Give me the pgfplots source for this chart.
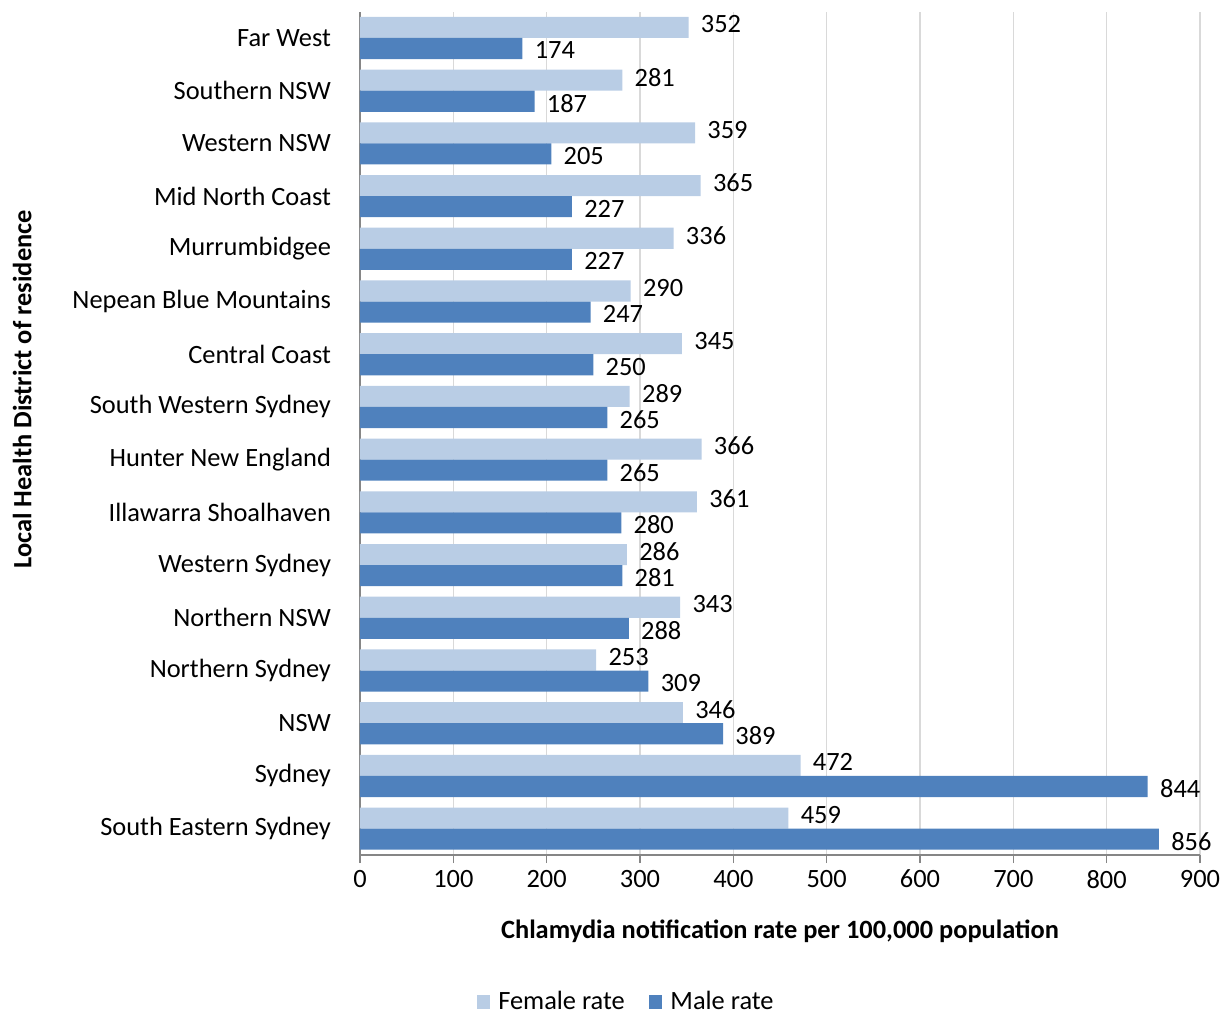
\documentclass[border=0pt]{standalone}
\usepackage{pgfplots}
\pgfplotsset{compat=1.18}
\usepackage{fontspec}
\setmainfont{Carlito}
\definecolor{fem}{RGB}{185,205,229}
\definecolor{mal}{RGB}{79,129,189}
\definecolor{gridc}{RGB}{217,217,217}
\definecolor{axc}{RGB}{134,134,134}
\begin{document}
\begin{tikzpicture}
\begin{axis}[
  scale only axis, width=420pt, height=421.7pt,
  at={(0,0)}, anchor=south west,
  xmin=0, xmax=900, ymin=-0.5, ymax=15.5,
  xbar, bar width=0.4,
  axis x line*=bottom, axis y line*=left,
  axis line style={axc, line width=0.6pt},
  xtick={0,100,...,900},
  xmajorgrids=true, grid style={gridc, line width=0.6pt},
  ytick={0,...,15},
  yticklabels={South Eastern Sydney,Sydney,NSW,Northern Sydney,Northern NSW,Western Sydney,Illawarra Shoalhaven,Hunter New England,South Western Sydney,Central Coast,Nepean Blue Mountains,Murrumbidgee,Mid North Coast,Western NSW,Southern NSW,Far West},
  minor ytick={-0.5,0.5,...,15.5},
  tick align=outside,
  major tick length=4pt,
  minor tick length=4pt,
  ytick style={draw=none},
  minor tick style={axc, line width=0.6pt, draw=axc},
  xtick style={axc, line width=0.6pt},
  tick label style={font=\fontsize{13.2}{15}\selectfont, text=black},
  /pgf/number format/assume math mode=true,
  yticklabel style={xshift=-7pt},
  xlabel={\textbf{Chlamydia notification rate per 100,000 population}},
  xlabel style={font=\fontsize{13.2}{15}\selectfont, at={(axis description cs:0.5,-0.09)}, anchor=center},
  ylabel={\textbf{Local Health District of residence}},
  ylabel style={font=\fontsize{13.2}{15}\selectfont, at={(axis description cs:-0.402,0.552)}, anchor=center},
  nodes near coords,
  every node near coord/.append style={font=\fontsize{13.2}{15}\selectfont, text=black, xshift=4.5pt, inner sep=1.5pt},
  legend style={at={(axis description cs:0.318,-0.174)}, anchor=center, legend columns=2, draw=none, font=\fontsize{13.2}{15}\selectfont, /tikz/every even column/.append style={column sep=10pt}, /tikz/every odd column/.append style={column sep=2pt}},
  legend image code/.code={\fill[#1] (0cm,-0.12cm) rectangle (0.24cm,0.12cm);},
]
\addplot[fill=fem, draw=none, bar shift=0.2, every node near coord/.append style={yshift=1.5pt}] coordinates {
(459,0) (472,1) (346,2) (253,3) (343,4) (286,5) (361,6) (366,7) (289,8) (345,9) (290,10) (336,11) (365,12) (359,13) (281,14) (352,15)};
\addlegendentry{Female rate}
\addplot[fill=mal, draw=none, bar shift=-0.2, every node near coord/.append style={yshift=-1pt}] coordinates {
(856,0) (844,1) (389,2) (309,3) (288,4) (281,5) (280,6) (265,7) (265,8) (250,9) (247,10) (227,11) (227,12) (205,13) (187,14) (174,15)};
\addlegendentry{Male rate}
\end{axis}
\pgfresetboundingbox
\path (-180pt,-79.5pt) rectangle (436pt,427.5pt);
\end{tikzpicture}
\end{document}
